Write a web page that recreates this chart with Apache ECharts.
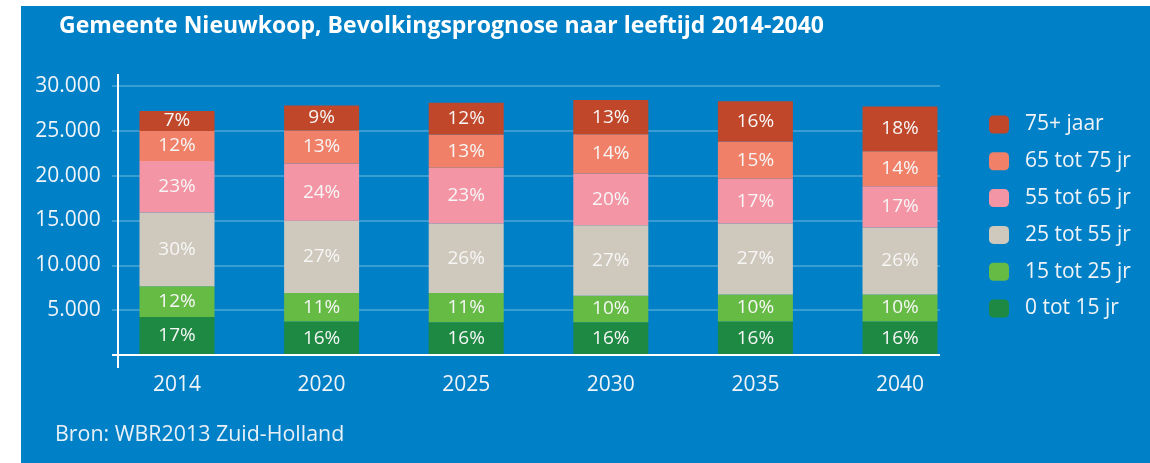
<!DOCTYPE html>
<html>
<head>
<meta charset="utf-8">
<script src="https://cdn.jsdelivr.net/npm/echarts@6/dist/echarts.min.js"></script>
<style>
  html, body { margin: 0; padding: 0; background: #ffffff; }
  #chart { position: absolute; left: 21px; top: 6px; width: 1129px; height: 457px; background: #0080c6; }
</style>
</head>
<body>
<div id="chart"></div>
<script>
var years = ['2014', '2020', '2025', '2030', '2035', '2040'];
var yTicks = [0, 5000, 10000, 15000, 20000, 25000, 30000];

var age0_15 = [4230, 3750, 3640, 3640, 3750, 3750];
var age15_25 = [3450, 3160, 3270, 2970, 3010, 3010];
var age25_55 = [8210, 8060, 7760, 7870, 7910, 7460];
var age55_65 = [5750, 6390, 6200, 5760, 4980, 4610];
var age65_75 = [3340, 3680, 3710, 4380, 4160, 3900];
var age75 = [2230, 2780, 3560, 3820, 4490, 4980];

// percentages zoals in de grafiek
var pct0_15 = ['17%', '16%', '16%', '16%', '16%', '16%'];
var pct15_25 = ['12%', '11%', '11%', '10%', '10%', '10%'];
var pct25_55 = ['30%', '27%', '26%', '27%', '27%', '26%'];
var pct55_65 = ['23%', '24%', '23%', '20%', '17%', '17%'];
var pct65_75 = ['12%', '13%', '13%', '14%', '15%', '14%'];
var pct75 = ['7%', '9%', '12%', '13%', '16%', '18%'];

var groupNames = ['0 tot 15 jr', '15 tot 25 jr', '25 tot 55 jr', '55 tot 65 jr', '65 tot 75 jr', '75+ jaar'];
var groupData = [age0_15, age15_25, age25_55, age55_65, age65_75, age75];
var groupPct = [pct0_15, pct15_25, pct25_55, pct55_65, pct65_75, pct75];
var colors = ['#1e8943', '#66bb45', '#cfc8bc', '#f495a5', '#f08068', '#c1472a'];

var font = 'Open Sans';
var gridLine = 'rgba(255, 255, 255, 0.3)';

var series = groupNames.map(function(name, i) {
	var pct = groupPct[i];
	return {
		name: name,
		type: 'bar',
		stack: 'total',
		xAxisIndex: 0,
		yAxisIndex: 0,
		barWidth: 75,
		itemStyle: { color: colors[i] },
		label: {
			show: true,
			position: 'inside',
			color: '#f6f6f6',
			fontFamily: font,
			fontSize: 19,
			formatter: function(p) { return pct[p.dataIndex]; }
		},
		data: groupData[i]
	};
});

var chart = echarts.init(document.getElementById('chart'));
var option = {
	animation: false,
	color: colors,
	title: [
		{
			text: 'Gemeente Nieuwkoop, Bevolkingsprognose naar leeftijd 2014-2040',
			left: 33,
			top: 4,
			textStyle: { color: '#ffffff', fontFamily: font, fontSize: 23, fontWeight: 'bold' }
		},
		{
			text: 'Bron: WBR2013 Zuid-Holland',
			left: 29,
			top: 413,
			textStyle: { color: '#e8f0f8', fontFamily: font, fontSize: 21.4, fontWeight: 'normal' }
		}
	],
	legend: {
		orient: 'vertical',
		left: 963,
		top: 103,
		itemWidth: 20,
		itemHeight: 18,
		itemGap: 15.8,
		data: groupNames.slice().reverse(),
		textStyle: { color: '#f0f4f8', fontFamily: font, fontSize: 21, lineHeight: 20, padding: [0, 0, 0, 11] }
	},
	grid: [
		{ left: 83.7, width: 867.6, top: 80, height: 269 },
		{ left: 97, width: 822, top: 80, height: 269 }
	],
	xAxis: [
		{
			type: 'category',
			gridIndex: 0,
			data: years,
			axisLine: { show: false },
			axisTick: { show: false },
			axisLabel: { color: '#f0f4f8', fontFamily: font, fontSize: 21, margin: 20 }
		},
		{
			type: 'value',
			gridIndex: 1,
			min: 0,
			max: 1,
			show: false
		}
	],
	yAxis: [
		{
			type: 'value',
			gridIndex: 0,
			min: yTicks[0],
			max: yTicks[yTicks.length - 1],
			interval: 5000,
			axisLine: { show: false },
			axisTick: { show: false },
			splitLine: { show: false },
			axisLabel: {
				color: '#f0f4f8',
				fontFamily: font,
				fontSize: 21,
				margin: 4,
				formatter: function(v) { return v === 0 ? '' : (v / 1000).toFixed(3); }
			}
		},
		{
			type: 'value',
			gridIndex: 1,
			min: yTicks[0],
			max: yTicks[yTicks.length - 1],
			interval: 5000,
			axisLine: { show: false },
			axisLabel: { show: false },
			axisTick: { show: true, length: 6, lineStyle: { color: gridLine, width: 1.5 } },
			splitLine: { show: true, lineStyle: { color: gridLine, width: 1.5 } }
		}
	],
	series: series
};
chart.setOption(option);

// witte assen, iets doorgetrokken zoals in het origineel
var origin = chart.convertToPixel({ gridIndex: 1 }, [0, yTicks[0]]);
var topPt = chart.convertToPixel({ gridIndex: 1 }, [0, yTicks[yTicks.length - 1]]);
var endPt = chart.convertToPixel({ gridIndex: 1 }, [1, 0]);
chart.setOption({
	graphic: [
		{
			type: 'line',
			shape: { x1: origin[0], y1: topPt[1] - 12, x2: origin[0], y2: origin[1] + 13 },
			style: { stroke: '#ffffff', lineWidth: 2 },
			z: 10
		},
		{
			type: 'line',
			shape: { x1: origin[0] - 6, y1: origin[1], x2: endPt[0], y2: origin[1] },
			style: { stroke: '#ffffff', lineWidth: 2 },
			z: 10
		}
	]
});

window.addEventListener('resize', function() {
	chart.resize();
});
</script>
</body>
</html>
